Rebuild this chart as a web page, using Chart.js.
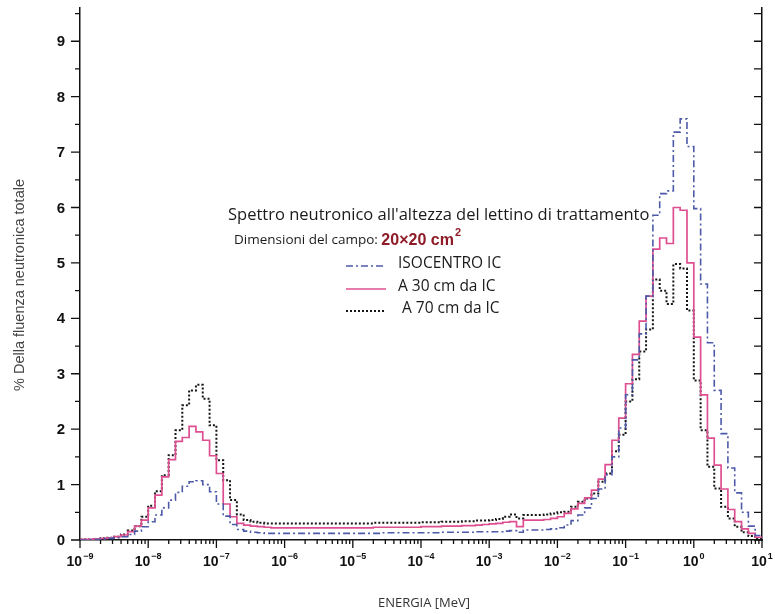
<!DOCTYPE html>
<html>
<head>
<meta charset="utf-8">
<title>Spettro neutronico</title>
<script src="https://cdn.jsdelivr.net/npm/chart.js@4.4.1/dist/chart.umd.min.js"></script>
<style>
  html, body { margin: 0; padding: 0; background: #fff; }
  #chart { display: block; }
</style>
</head>
<body>
<canvas id="chart" width="775" height="614"></canvas>
<script>
// Energy groups: 10 per decade from 1e-9 to 10 MeV
const decadeExponents = [-9, -8, -7, -6, -5, -4, -3, -2, -1, 0];
const decadeSteps = [1, 1.259, 1.585, 1.995, 2.512, 3.162, 3.981, 5.012, 6.31, 7.943];
const energyMax = 10;

// % of total neutron fluence per group, one row per decade
const isocentro = [
  0.00, 0.01, 0.01, 0.02, 0.03, 0.04, 0.06, 0.10, 0.16, 0.24,
  0.33, 0.45, 0.58, 0.72, 0.86, 0.97, 1.05, 1.07, 1.00, 0.87,
  0.65, 0.43, 0.28, 0.19, 0.16, 0.14, 0.13, 0.12, 0.12, 0.12,
  0.12, 0.12, 0.12, 0.12, 0.12, 0.12, 0.12, 0.12, 0.12, 0.12,
  0.12, 0.12, 0.12, 0.12, 0.13, 0.13, 0.13, 0.13, 0.13, 0.13,
  0.13, 0.13, 0.13, 0.14, 0.14, 0.14, 0.14, 0.14, 0.15, 0.15,
  0.15, 0.15, 0.16, 0.17, 0.14, 0.18, 0.18, 0.18, 0.19, 0.20,
  0.22, 0.27, 0.35, 0.45, 0.58, 0.75, 0.92, 1.18, 1.50, 2.02,
  2.62, 3.25, 3.72, 4.40, 5.86, 6.25, 6.30, 7.36, 7.60, 7.10,
  5.98, 4.62, 3.56, 2.70, 1.92, 1.30, 0.85, 0.50, 0.25, 0.08
];
const a30cm = [
  0.01, 0.01, 0.02, 0.03, 0.04, 0.06, 0.09, 0.15, 0.25, 0.36,
  0.58, 0.81, 1.14, 1.45, 1.78, 1.85, 2.05, 1.95, 1.80, 1.52,
  1.20, 0.65, 0.42, 0.30, 0.27, 0.25, 0.24, 0.23, 0.22, 0.22,
  0.22, 0.22, 0.22, 0.22, 0.22, 0.22, 0.22, 0.22, 0.22, 0.22,
  0.22, 0.22, 0.22, 0.23, 0.23, 0.23, 0.23, 0.23, 0.23, 0.23,
  0.24, 0.24, 0.24, 0.25, 0.25, 0.25, 0.26, 0.26, 0.27, 0.28,
  0.29, 0.30, 0.32, 0.33, 0.24, 0.36, 0.36, 0.36, 0.37, 0.39,
  0.42, 0.48, 0.56, 0.66, 0.76, 0.90, 1.10, 1.36, 1.80, 2.20,
  2.82, 3.35, 3.95, 4.40, 5.25, 5.45, 5.35, 6.00, 5.95, 5.00,
  3.66, 2.62, 1.84, 1.35, 0.92, 0.55, 0.33, 0.20, 0.12, 0.05
];
const a70cm = [
  0.01, 0.01, 0.02, 0.03, 0.04, 0.06, 0.10, 0.17, 0.25, 0.42,
  0.62, 0.88, 1.17, 1.53, 1.98, 2.43, 2.70, 2.80, 2.55, 2.07,
  1.44, 1.08, 0.72, 0.46, 0.36, 0.33, 0.31, 0.30, 0.30, 0.30,
  0.30, 0.30, 0.30, 0.30, 0.30, 0.30, 0.30, 0.30, 0.30, 0.30,
  0.30, 0.30, 0.30, 0.31, 0.31, 0.31, 0.31, 0.31, 0.31, 0.31,
  0.32, 0.32, 0.32, 0.33, 0.33, 0.33, 0.34, 0.34, 0.35, 0.35,
  0.36, 0.38, 0.42, 0.46, 0.39, 0.45, 0.45, 0.45, 0.46, 0.48,
  0.50, 0.51, 0.60, 0.69, 0.75, 0.84, 1.05, 1.20, 1.60, 1.90,
  2.50, 2.90, 3.40, 3.80, 4.70, 4.50, 4.26, 4.98, 4.90, 4.14,
  2.88, 1.98, 1.32, 0.93, 0.60, 0.39, 0.24, 0.14, 0.07, 0.02
];

// axes
const xTickExponents = [-9, -8, -7, -6, -5, -4, -3, -2, -1, 0, 1];
const xMinorMultipliers = [2, 3, 4, 5, 6, 7, 8, 9];
const yTickValues = [0, 1, 2, 3, 4, 5, 6, 7, 8, 9];
const yMax = 9.6;

const legendItems = ['ISOCENTRO IC', 'A 30 cm da IC', ' A 70 cm da IC'];

// group lower edges
const groupEdges = [];
decadeExponents.forEach(e => decadeSteps.forEach(s => groupEdges.push(s * Math.pow(10, e))));

function histPoints(values) {
  const pts = values.map((v, i) => ({ x: groupEdges[i], y: v }));
  pts.push({ x: energyMax, y: values[values.length - 1] });
  return pts;
}

const decorPlugin = {
  id: 'decor',
  afterDraw(chart) {
    const { ctx, chartArea: a } = chart;
    const xs = chart.scales.x;
    const ys = chart.scales.y;
    ctx.save();

    // tick marks
    ctx.strokeStyle = '#111';
    ctx.lineWidth = 1.3;
    ctx.beginPath();
    xTickExponents.forEach((e, k) => {
      const px = xs.getPixelForValue(Math.pow(10, e));
      ctx.moveTo(px, a.bottom);
      ctx.lineTo(px, a.bottom + 8);
      if (k < xTickExponents.length - 1) {
        xMinorMultipliers.forEach(m => {
          const mx = xs.getPixelForValue(m * Math.pow(10, e));
          ctx.moveTo(mx, a.bottom);
          ctx.lineTo(mx, a.bottom + 4);
        });
      }
    });
    yTickValues.forEach(v => {
      const py = ys.getPixelForValue(v);
      ctx.moveTo(a.left - 9, py);
      ctx.lineTo(a.left, py);
      ctx.moveTo(a.right - 8, py);
      ctx.lineTo(a.right, py);
      const pm = ys.getPixelForValue(v + 0.5);
      ctx.moveTo(a.left - 5, pm);
      ctx.lineTo(a.left, pm);
      ctx.moveTo(a.right - 8, pm);
      ctx.lineTo(a.right, pm);
    });
    ctx.stroke();

    // y tick labels
    ctx.fillStyle = '#111';
    ctx.font = 'bold 15px "Liberation Sans", Arial, sans-serif';
    ctx.textAlign = 'right';
    ctx.textBaseline = 'middle';
    yTickValues.forEach(v => {
      ctx.fillText(String(v), a.left - 15, ys.getPixelForValue(v) + 1);
    });

    // x tick labels: 10 with superscript exponent
    ctx.textAlign = 'left';
    ctx.textBaseline = 'alphabetic';
    xTickExponents.forEach(e => {
      const px = xs.getPixelForValue(Math.pow(10, e));
      ctx.font = 'bold 14px "Liberation Sans", Arial, sans-serif';
      const wBase = ctx.measureText('10').width;
      ctx.font = 'bold 9px "Liberation Sans", Arial, sans-serif';
      const expText = String(e).replace('-', '\u2212');
      const wExp = ctx.measureText(expText).width;
      const start = px - (wBase + 1 + wExp) / 2;
      ctx.font = 'bold 14px "Liberation Sans", Arial, sans-serif';
      ctx.fillText('10', start, a.bottom + 26);
      ctx.font = 'bold 9px "Liberation Sans", Arial, sans-serif';
      ctx.fillText(expText, start + wBase + 1, a.bottom + 19);
    });

    // axis titles
    ctx.fillStyle = '#333';
    ctx.font = '13px "Open Sans", sans-serif';
    ctx.textAlign = 'center';
    ctx.fillText('ENERGIA [MeV]', (a.left + a.right) / 2 + 3, a.bottom + 67);
    ctx.save();
    ctx.translate(24, (a.top + a.bottom) / 2 + 11);
    ctx.rotate(-Math.PI / 2);
    ctx.fillStyle = '#444';
    ctx.font = '14.5px "Liberation Sans", Arial, sans-serif';
    ctx.fillText('% Della fluenza neutronica totale', 0, 0);
    ctx.restore();

    // annotation
    ctx.textAlign = 'left';
    ctx.textBaseline = 'middle';
    ctx.fillStyle = '#1a1a1a';
    ctx.font = '16.5px "Open Sans", sans-serif';
    ctx.fillText("Spettro neutronico all'altezza del lettino di trattamento", 228, 215);
    const dimText = 'Dimensioni del campo: ';
    ctx.font = '13.5px "Open Sans", sans-serif';
    ctx.fillText(dimText, 234, 240);
    const dimW = ctx.measureText(dimText).width;
    ctx.fillStyle = '#8e1b27';
    ctx.font = 'bold 16px "Liberation Sans", Arial, sans-serif';
    const red = '20\u00D720 cm';
    ctx.fillText(red, 234 + dimW, 241);
    const redW = ctx.measureText(red).width;
    ctx.font = 'bold 11px "Liberation Sans", Arial, sans-serif';
    ctx.fillText('2', 234 + dimW + redW + 1, 233);

    // legend
    const rows = [264, 287, 309];
    const styles = chart.data.datasets;
    rows.forEach((ry, k) => {
      const ds = styles[k];
      ctx.save();
      ctx.strokeStyle = ds.borderColor;
      ctx.lineWidth = ds.borderWidth;
      ctx.setLineDash(ds.borderDash || []);
      ctx.beginPath();
      ctx.moveTo(346, ry + 2);
      ctx.lineTo(386, ry + 2);
      ctx.stroke();
      ctx.restore();
      ctx.fillStyle = '#1a1a1a';
      ctx.font = '15.5px "Open Sans", sans-serif';
      ctx.fillText(legendItems[k], 398, ry);
    });

    ctx.restore();
  }
};

new Chart(document.getElementById('chart'), {
  type: 'line',
  data: {
    datasets: [
      {
        label: legendItems[0],
        data: histPoints(isocentro),
        borderColor: '#4d5aa8',
        borderWidth: 1.6,
        borderDash: [7, 3, 2, 3]
      },
      {
        label: legendItems[1],
        data: histPoints(a30cm),
        borderColor: '#de4f91',
        borderWidth: 1.7
      },
      {
        label: legendItems[2],
        data: histPoints(a70cm),
        borderColor: '#151515',
        borderWidth: 2,
        borderDash: [2, 2]
      }
    ]
  },
  options: {
    responsive: false,
    animation: false,
    devicePixelRatio: 1,
    layout: { padding: { left: 80, right: 13, top: 8, bottom: 74 } },
    elements: {
      point: { radius: 0 },
      line: { stepped: 'before', tension: 0, fill: false }
    },
    plugins: {
      legend: { display: false },
      tooltip: { enabled: false }
    },
    scales: {
      x: {
        type: 'logarithmic',
        min: Math.pow(10, xTickExponents[0]),
        max: energyMax,
        ticks: { display: false, autoSkip: false },
        grid: { display: false, drawTicks: false },
        border: { display: true, color: '#111', width: 1.5 }
      },
      y: {
        type: 'linear',
        position: 'left',
        min: 0,
        max: yMax,
        ticks: { display: false, stepSize: 0.5, includeBounds: false },
        grid: { display: false, drawTicks: false },
        border: { display: true, color: '#111', width: 1.5 }
      },
      y2: {
        type: 'linear',
        position: 'right',
        min: 0,
        max: yMax,
        ticks: { display: false },
        grid: { display: false, drawTicks: false },
        border: { display: true, color: '#111', width: 1.5 }
      }
    }
  },
  plugins: [decorPlugin]
});
</script>
</body>
</html>
